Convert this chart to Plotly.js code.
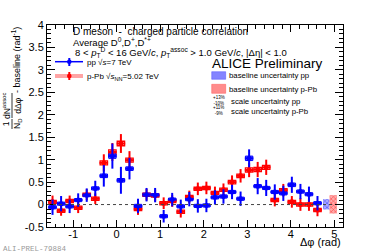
<!DOCTYPE html>
<html><head><meta charset="utf-8">
<script src="https://cdn.plot.ly/plotly-3.0.1.min.js"></script>
<style>html,body{margin:0;padding:0;background:#fff;}#c{width:382px;height:252px;}</style>
</head><body><div id="c"></div>
<script>
// ---- data ----
const dphi = [-1.473,-1.276,-1.080,-0.884,-0.687,-0.491,-0.295,-0.098,0.098,0.295,0.491,0.687,0.884,1.080,1.276,1.473,1.669,1.865,2.062,2.258,2.454,2.651,2.847,3.043,3.240,3.436,3.633,3.829,4.025,4.222,4.418,4.614];
const binHalf = 0.098;
const ppY    = [-0.06,0.02,-0.04,0.10,0.21,0.36,0.64,1.08,0.54,0.80,-0.03,0.22,0.21,-0.26,0.11,-0.04,0.12,-0.03,-0.02,0.16,0.18,0.28,0.13,1.03,0.41,0.37,0.28,0.25,0.44,0.29,0.23,0.03];
const ppStat = [0.17,0.17,0.15,0.15,0.15,0.17,0.24,0.28,0.30,0.24,0.16,0.15,0.16,0.14,0.15,0.15,0.16,0.15,0.15,0.16,0.16,0.16,0.16,0.20,0.18,0.18,0.17,0.17,0.18,0.17,0.17,0.16];
const ppSys  = [0.035,0.035,0.035,0.035,0.035,0.035,0.04,0.05,0.04,0.04,0.035,0.035,0.035,0.035,0.035,0.035,0.035,0.035,0.035,0.035,0.035,0.035,0.035,0.05,0.035,0.035,0.035,0.035,0.04,0.035,0.035,0.035];
const pPbY    = [0.06,-0.14,0.08,-0.07,0.22,0.13,0.93,1.17,1.36,0.99,-0.10,0.22,0.20,0.03,0.08,-0.16,0.17,0.35,0.37,0.26,0.33,0.50,0.64,0.77,0.78,0.83,0.10,0.32,0.06,0.00,0.00,-0.12];
const pPbStat = [0.14,0.11,0.12,0.12,0.12,0.12,0.19,0.20,0.21,0.20,0.13,0.13,0.13,0.13,0.13,0.13,0.14,0.14,0.14,0.14,0.14,0.15,0.15,0.16,0.17,0.17,0.14,0.14,0.13,0.14,0.14,0.14];
const pPbSys  = [0.035,0.035,0.035,0.035,0.035,0.035,0.045,0.05,0.05,0.045,0.035,0.035,0.035,0.035,0.035,0.035,0.035,0.035,0.035,0.035,0.035,0.04,0.04,0.045,0.045,0.045,0.035,0.035,0.035,0.035,0.035,0.035];
const baseX    = [4.815, 4.975];
const baseW    = [0.15, 0.17];
const baseLow  = [-0.11, -0.20];
const baseHigh = [0.12, 0.21];
const xTickVals = [-1,0,1,2,3,4,5];
const xTickText = ['-1','0','1','2','3','4','5'];
const yTickVals = [-0.5,0,0.5,1,1.5,2,2.5,3,3.5,4];
const yTickText = ['-0.5','0','0.5','1','1.5','2','2.5','3','3.5','4'];

// ---- layout helpers (pixel -> paper) ----
const L=47,R=343,T=25,B=227;
const PX = p => (p-L)/(R-L);
const PY = p => (B-p)/(B-T);
const FONT = 'Liberation Sans, Arial, Helvetica, sans-serif';

const blue='#0000ff', red='#ff0000';
const traces = [];
// p-Pb systematic boxes (hollow)
traces.push({type:'bar', x:dphi, y:pPbSys.map(s=>2*s), base:pPbY.map((v,i)=>v-pPbSys[i]), width:0.17,
  marker:{color:'rgba(0,0,0,0)', line:{color:red, width:1.3}}, hoverinfo:'skip', showlegend:false});
// p-Pb points
traces.push({type:'scatter', mode:'markers', x:dphi, y:pPbY,
  error_y:{type:'data', array:pPbStat, color:red, thickness:2, width:0},
  error_x:{type:'constant', value:binHalf, color:red, thickness:2, width:0},
  marker:{color:red, size:5, symbol:'circle'}, hoverinfo:'skip', showlegend:false});
// pp systematic boxes (filled)
traces.push({type:'bar', x:dphi, y:ppSys.map(s=>2*s), base:ppY.map((v,i)=>v-ppSys[i]), width:0.17,
  marker:{color:'rgba(60,60,255,0.75)', line:{color:blue, width:1}}, hoverinfo:'skip', showlegend:false});
// pp points
traces.push({type:'scatter', mode:'markers', x:dphi, y:ppY,
  error_y:{type:'data', array:ppStat, color:blue, thickness:2, width:0},
  error_x:{type:'constant', value:binHalf, color:blue, thickness:2, width:0},
  marker:{color:blue, size:5, symbol:'circle'}, hoverinfo:'skip', showlegend:false});
// baseline uncertainty boxes
traces.push({type:'bar', x:[baseX[0]], y:[baseHigh[0]-baseLow[0]], base:[baseLow[0]], width:[baseW[0]],
  marker:{color:'rgba(120,120,255,0.8)', line:{width:0}, pattern:{shape:'x', size:3, solidity:0.3, fgcolor:'rgba(40,40,255,0.9)', bgcolor:'rgba(150,150,255,0.8)'}},
  hoverinfo:'skip', showlegend:false});
traces.push({type:'bar', x:[baseX[1]], y:[baseHigh[1]-baseLow[1]], base:[baseLow[1]], width:[baseW[1]],
  marker:{color:'rgba(255,120,120,0.8)', line:{width:0}, pattern:{shape:'x', size:3, solidity:0.3, fgcolor:'rgba(255,40,40,0.9)', bgcolor:'rgba(255,150,150,0.8)'}},
  hoverinfo:'skip', showlegend:false});

const ann = [];
function A(text, x, y, size, opts){ ann.push(Object.assign({text:text, x:PX(x), y:PY(y), xref:'paper', yref:'paper', showarrow:false, xanchor:'left', yanchor:'middle', font:{family:FONT, size:size, color:'#000'}}, opts||{})); }

A('D meson  -  charged particle correlation', 71, 31.5, 10);
A('Average D<sup>0</sup>,D<sup>+</sup>,D<sup>*+</sup>', 71, 42, 9.5);
A('8 < <i>p</i><sub>T</sub><sup>D</sup> < 16 GeV/<i>c</i>, <i>p</i><sub>T</sub><sup>assoc</sup> > 1.0 GeV/<i>c</i>, |Δη| < 1.0', 73, 52.5, 9.5);
A('pp √<i>s</i>=7 TeV', 85, 62, 8);
A('p-Pb √<i>s</i><sub>NN</sub>=5.02 TeV', 85, 76.5, 8);
A('ALICE Preliminary', 210, 64, 13.5);
A('baseline uncertainty pp', 227, 75.7, 7.8);
A('baseline uncertainty p-Pb', 227, 89, 7.8);
A('+13%<br>-10%', 211, 100, 4.5);
A('scale uncertainty pp', 229, 101.7, 7.8);
A('+11%<br>-9%', 211, 110, 4.5);
A('scale uncertainty p-Pb', 229, 111.3, 7.8);
A('Δφ (rad)', 343, 242, 11, {xanchor:'right'});
A('ALI-PREL-79884', 1, 248.5, 7.5, {font:{family:'Liberation Mono, DejaVu Sans Mono, monospace', size:7.5, color:'#999'}});
// y-axis title (rotated)
A('1<br>N<sub>D</sub>', 12, 124, 8.5, {xanchor:'center', textangle:-90});
A('dN<sup>assoc</sup><br>dΔφ', 12, 106, 8.5, {xanchor:'center', textangle:-90});
A('- baseline (rad<sup>-1</sup>)', 16, 60, 9, {xanchor:'center', textangle:-90});

const shapes = [];
function S(s){ shapes.push(Object.assign({xref:'paper', yref:'paper'}, s)); }
// zero dashed line (data coords)
shapes.push({type:'line', xref:'x', yref:'y', x0:-1.6, x1:4.97, y0:0, y1:0, line:{color:'#444', width:1, dash:'3px,3px'}});
// legend symbols
S({type:'line', x0:PX(55), x1:PX(83), y0:PY(61.7), y1:PY(61.7), line:{color:blue, width:1.5}});
S({type:'line', x0:PX(69.3), x1:PX(69.3), y0:PY(58), y1:PY(66), line:{color:blue, width:2}});
S({type:'circle', x0:PX(67), x1:PX(71.6), y0:PY(59.4), y1:PY(64), fillcolor:blue, line:{width:0}});
S({type:'line', x0:PX(55), x1:PX(83), y0:PY(76), y1:PY(76), line:{color:'rgba(255,90,90,0.55)', width:4}});
S({type:'line', x0:PX(69.3), x1:PX(69.3), y0:PY(72), y1:PY(80), line:{color:red, width:2}});
S({type:'circle', x0:PX(67), x1:PX(71.6), y0:PY(73.7), y1:PY(78.3), fillcolor:red, line:{width:0}});
// baseline legend boxes
S({type:'rect', x0:PX(211.7), x1:PX(225.7), y0:PY(71.7), y1:PY(79.3), fillcolor:'rgba(110,110,255,0.85)', line:{color:'rgba(60,60,255,0.8)', width:0.5}});
S({type:'rect', x0:PX(211.7), x1:PX(225.7), y0:PY(84.3), y1:PY(93.3), fillcolor:'rgba(255,120,120,0.85)', line:{color:'rgba(255,60,60,0.8)', width:0.5}});
// y title fraction bars
S({type:'line', x0:PX(12), x1:PX(12), y0:PY(119), y1:PY(129), line:{color:'#000', width:0.8}});
S({type:'line', x0:PX(12), x1:PX(12), y0:PY(93), y1:PY(118), line:{color:'#000', width:0.8}});

const axisCommon = {showgrid:false, zeroline:false, showline:true, linecolor:'#000', linewidth:1, mirror:'allticks',
  ticks:'inside', tickcolor:'#000', tickwidth:1, tickmode:'array', tickfont:{family:FONT, size:11, color:'#000'}};
const layout = {
  width:382, height:252, margin:{l:L, r:382-R, t:T, b:252-B},
  paper_bgcolor:'#fff', plot_bgcolor:'#fff', showlegend:false, barmode:'overlay', hovermode:false,
  xaxis:Object.assign({}, axisCommon, {range:[-1.6,5.2], tickvals:xTickVals, ticktext:xTickText, ticklen:7, ticklabelstandoff:-3,
    minor:{tickmode:'linear', tick0:0, dtick:0.2, ticks:'inside', ticklen:3.5, tickcolor:'#000', tickwidth:1}}),
  yaxis:Object.assign({}, axisCommon, {range:[-0.5,4], tickvals:yTickVals, ticktext:yTickText, ticklen:8,
    minor:{tickmode:'linear', tick0:0, dtick:0.1, ticks:'inside', ticklen:4, tickcolor:'#000', tickwidth:1}}),
  annotations:ann, shapes:shapes
};
Plotly.newPlot('c', traces, layout, {staticPlot:true, displayModeBar:false});
</script></body></html>
